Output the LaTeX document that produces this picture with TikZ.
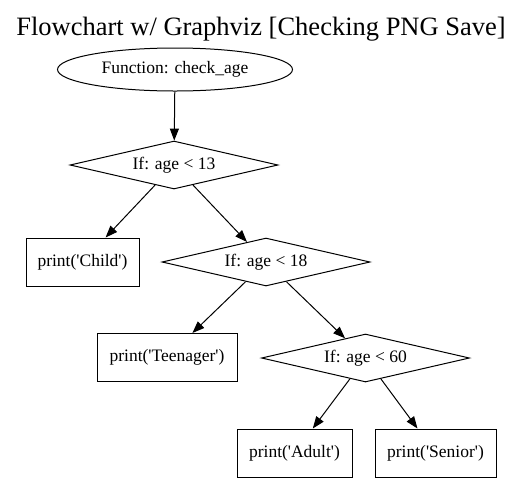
\documentclass[tikz,border=0pt]{standalone}
\usepackage{fontspec}
\setmainfont{Liberation Serif}
\usetikzlibrary{arrows.meta,shapes.geometric}
\tikzset{
  fc diagram/.style={x=1pt, y=-1pt, line width=1pt,
    font=\fontsize{17.5}{19}\selectfont},
  fc title/.style={font=\fontsize{26.5}{29}\selectfont, anchor=base},
  fc start/.style={draw, ellipse, inner sep=0pt,
    minimum width=235pt, minimum height=43pt},
  fc decision/.style={draw, diamond, aspect=4.3, inner sep=0pt,
    minimum width=208pt, minimum height=48pt},
  fc action/.style={draw, rectangle, inner sep=0pt, minimum height=48pt},
  fc arrow/.style={-{Triangle[length=12pt,width=9pt]}}
}
\newcommand{\fcq}{\textquotesingle}
\begin{document}
\begin{tikzpicture}[fc diagram]
\useasboundingbox (0,0) rectangle (522,483);
\node[fc title] (title) at (261,35) {Flowchart w/ Graphviz [Checking PNG Save]};
% start and decisions
\node[fc start] (start) at (175,69.5) {Function: check\_age};
\node[fc decision] (if13) at (174,165) {If: age < 13};
\node[fc decision] (if18) at (266,262) {If: age < 18};
\node[fc decision] (if60) at (365.5,358) {If: age < 60};
% outputs
\node[fc action, minimum width=113pt] (child) at (82.5,262) {print(\fcq Child\fcq)};
\node[fc action, minimum width=140pt] (teen) at (167,357.5) {print(\fcq Teenager\fcq)};
\node[fc action, minimum width=115pt] (adult) at (294.5,453) {print(\fcq Adult\fcq)};
\node[fc action, minimum width=121pt] (senior) at (435.5,453) {print(\fcq Senior\fcq)};
% edges
\foreach \from/\to in {start/if13,if13/child,if13/if18,if18/teen,if18/if60,if60/adult,if60/senior}
  \draw[fc arrow] (\from) -- (\to);
\end{tikzpicture}
\end{document}
